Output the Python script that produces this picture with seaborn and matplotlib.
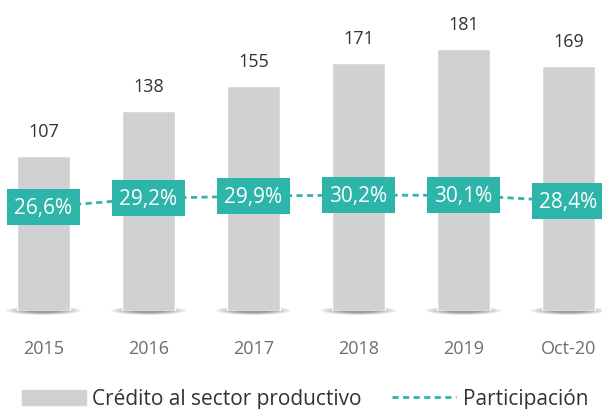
import numpy as np
import pandas as pd
import matplotlib.pyplot as plt
import seaborn as sns
from matplotlib.patches import Patch, Ellipse
from matplotlib.lines import Line2D

years = ["2015", "2016", "2017", "2018", "2019", "Oct-20"]
credito = [107, 138, 155, 171, 181, 169]
participacion = [26.6, 29.2, 29.9, 30.2, 30.1, 28.4]
pct_labels = ["26,6%", "29,2%", "29,9%", "30,2%", "30,1%", "28,4%"]

bar_color = "#D0D1D3"
teal = "#2DB5A9"

sns.set_style("white")
plt.rcParams['font.family'] = ['Open Sans', 'DejaVu Sans']

df = pd.DataFrame({"year": years, "credito": credito, "part": participacion})

fig = plt.figure(figsize=(6.02, 4.10), dpi=100)
ax = fig.add_axes([0, 1 - 312 / 410, 1, 302 / 410])

sns.barplot(data=df, x="year", y="credito", color=bar_color, width=0.5,
            saturation=1, ax=ax, zorder=2)

# soft shadow under each bar
for i in range(len(years)):
    for k in range(8):
        w = 0.72 - k * 0.06
        h = 6.0 - k * 0.45
        ax.add_patch(Ellipse((i, 0.3), w, h, color="black", alpha=0.06,
                             lw=0, zorder=1, clip_on=False))

for i, v in enumerate(credito):
    ax.text(i, v + 11, str(v), ha="center", va="bottom", fontsize=13,
            color="#333333")

ax.set_xlim(-0.415, 5.32)
ax.set_ylim(0, 208.4)
ax.set_xlabel("")
ax.set_ylabel("")
ax.set_yticks([])
ax.tick_params(axis="x", length=0, pad=20, labelsize=13, labelcolor="#6E6E6E")
sns.despine(ax=ax, left=True, bottom=True)

ax2 = ax.twinx()
sns.lineplot(x=np.arange(len(years)), y=participacion, ax=ax2, color=teal,
             lw=2, zorder=3)
ax2.lines[0].set_linestyle((0, (2.2, 1.6)))
for i, v in enumerate(participacion):
    ax2.text(i, v, pct_labels[i], ha="center", va="center", fontsize=15,
             color="white", zorder=5,
             bbox=dict(boxstyle="square,pad=0.36", fc=teal, ec="none"))
ax2.set_ylim(-4.6, 86.05)
ax2.set_yticks([])
ax2.set_ylabel("")
sns.despine(ax=ax2, left=True, bottom=True, right=True)

handles = [Patch(color=bar_color, label="Crédito al sector productivo"),
           Line2D([0], [0], color=teal, lw=2, linestyle=(0, (2.2, 1.6)),
                  label="Participación")]
fig.legend(handles=handles, loc="center left",
           bbox_to_anchor=(22 / 602, 1 - 400 / 410), ncol=2, frameon=False,
           fontsize=15, handlelength=3.08, handletextpad=0.3,
           columnspacing=1.45, borderpad=0, borderaxespad=0,
           labelcolor="#333333")

fig.savefig("out.png", dpi=100)
